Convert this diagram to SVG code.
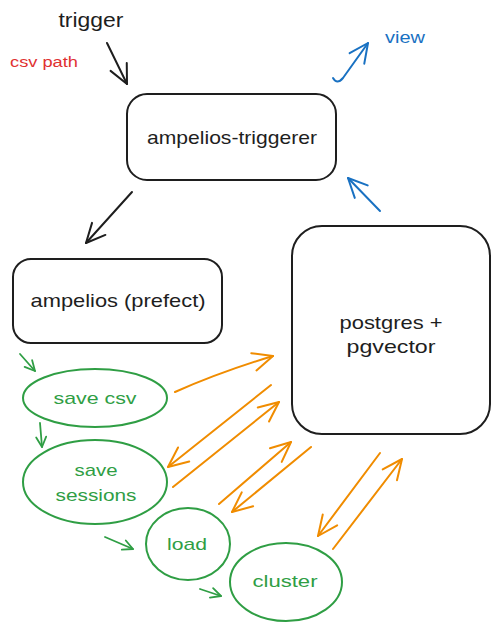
<svg xmlns="http://www.w3.org/2000/svg" width="498" height="631" viewBox="0 0 498 631">
<defs>
<style>
.t{font-family:"Liberation Sans","DejaVu Sans",sans-serif;text-anchor:middle;dominant-baseline:central}
.box{fill:none;stroke:#1e1e1e;stroke-width:2}
.ell{fill:none;stroke:#2f9e44;stroke-width:2}
.bk{fill:none;stroke:#1e1e1e;stroke-width:2;stroke-linecap:round;marker-end:url(#mk)}
.gr{fill:none;stroke:#2f9e44;stroke-width:1.8;stroke-linecap:round;marker-end:url(#mg)}
.or{fill:none;stroke:#f08c00;stroke-width:2;stroke-linecap:round;marker-end:url(#mo)}
.bl{fill:none;stroke:#1971c2;stroke-width:2;stroke-linecap:round;marker-end:url(#mb)}
</style>
<marker id="mk" markerUnits="userSpaceOnUse" markerWidth="40" markerHeight="40" refX="0" refY="0" viewBox="-20 -20 40 40" orient="auto" overflow="visible"><path d="M-19,-9 L0,0 L-19,9" fill="none" stroke="#1e1e1e" stroke-width="2" stroke-linecap="round" stroke-linejoin="round"/></marker>
<marker id="mg" markerUnits="userSpaceOnUse" markerWidth="40" markerHeight="40" refX="0" refY="0" viewBox="-20 -20 40 40" orient="auto" overflow="visible"><path d="M-10,-5 L0,0 L-10,5" fill="none" stroke="#2f9e44" stroke-width="1.8" stroke-linecap="round" stroke-linejoin="round"/></marker>
<marker id="mo" markerUnits="userSpaceOnUse" markerWidth="40" markerHeight="40" refX="0" refY="0" viewBox="-20 -20 40 40" orient="auto" overflow="visible"><path d="M-20,-9 L0,0 L-20,9" fill="none" stroke="#f08c00" stroke-width="2" stroke-linecap="round" stroke-linejoin="round"/></marker>
<marker id="mb" markerUnits="userSpaceOnUse" markerWidth="40" markerHeight="40" refX="0" refY="0" viewBox="-20 -20 40 40" orient="auto" overflow="visible"><path d="M-19,-9 L0,0 L-19,9" fill="none" stroke="#1971c2" stroke-width="2" stroke-linecap="round" stroke-linejoin="round"/></marker>
</defs>
<rect width="498" height="631" fill="#ffffff"/>
<g id="connectors">
<path class="bk" d="M107,43 L127,84"/>
<path class="bk" d="M132,192 L86,243"/>
<path class="bl" d="M333,78 Q337,85 343,78 L368,43"/>
<path class="bl" d="M380,211 L348,178"/>
<path class="gr" d="M20,354 L35,371"/>
<path class="gr" d="M40,423 L42,447"/>
<path class="gr" d="M105,537 L133,549"/>
<path class="gr" d="M200,589 L221,596"/>
<path class="or" d="M175,392 Q220,372 273,356"/>
<path class="or" d="M271,385 L168,467"/>
<path class="or" d="M173,487 L279,402"/>
<path class="or" d="M219,504 L291,442"/>
<path class="or" d="M311,447 L232,512"/>
<path class="or" d="M380,453 L318,536"/>
<path class="or" d="M333,549 L402,459"/>
</g>
<g id="trigger"><text class="t" x="91" y="20" font-size="20" fill="#1e1e1e" textLength="65" lengthAdjust="spacingAndGlyphs">trigger</text></g>
<g id="csv-path"><text class="t" x="44" y="62" font-size="14" fill="#e03131" textLength="68" lengthAdjust="spacingAndGlyphs">csv path</text></g>
<g id="view"><text class="t" x="405" y="37" font-size="16" fill="#1971c2" textLength="40" lengthAdjust="spacingAndGlyphs">view</text></g>
<g id="ampelios-triggerer">
<rect class="box" x="127" y="94" width="209" height="86" rx="20"/>
<text class="t" x="232" y="137" font-size="19" fill="#1e1e1e" textLength="170" lengthAdjust="spacingAndGlyphs">ampelios-triggerer</text>
</g>
<g id="ampelios-prefect">
<rect class="box" x="13" y="259" width="209" height="84" rx="18"/>
<text class="t" x="118" y="300" font-size="19" fill="#1e1e1e" textLength="175" lengthAdjust="spacingAndGlyphs">ampelios (prefect)</text>
</g>
<g id="postgres">
<rect class="box" x="292" y="226" width="198" height="208" rx="30"/>
<text class="t" x="391" y="322" font-size="19" fill="#1e1e1e" textLength="103" lengthAdjust="spacingAndGlyphs">postgres +</text>
<text class="t" x="391" y="346" font-size="19" fill="#1e1e1e" textLength="89" lengthAdjust="spacingAndGlyphs">pgvector</text>
</g>
<g id="save-csv">
<ellipse class="ell" cx="95" cy="398" rx="72" ry="29"/>
<text class="t" x="95" y="398" font-size="17" fill="#2f9e44" textLength="83" lengthAdjust="spacingAndGlyphs">save csv</text>
</g>
<g id="save-sessions">
<ellipse class="ell" cx="95" cy="482" rx="72" ry="42"/>
<text class="t" x="96" y="470" font-size="17" fill="#2f9e44" textLength="43" lengthAdjust="spacingAndGlyphs">save</text>
<text class="t" x="96" y="495" font-size="17" fill="#2f9e44" textLength="81" lengthAdjust="spacingAndGlyphs">sessions</text>
</g>
<g id="load">
<ellipse class="ell" cx="188" cy="544" rx="42" ry="36"/>
<text class="t" x="187" y="544" font-size="17" fill="#2f9e44" textLength="40" lengthAdjust="spacingAndGlyphs">load</text>
</g>
<g id="cluster">
<ellipse class="ell" cx="286" cy="582" rx="56" ry="39"/>
<text class="t" x="285" y="581" font-size="17" fill="#2f9e44" textLength="65" lengthAdjust="spacingAndGlyphs">cluster</text>
</g>
</svg>
